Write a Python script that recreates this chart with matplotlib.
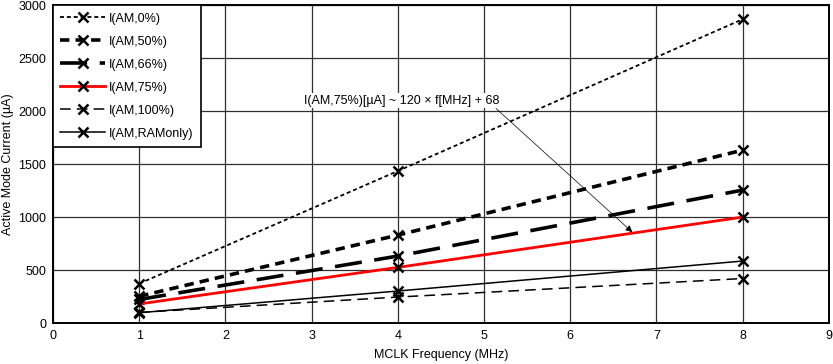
import matplotlib.pyplot as plt

plt.rcParams['font.family'] = ['Liberation Sans', 'DejaVu Sans']

# values
freq_mhz = [1, 4, 8]
i_am_0 = [372, 1435, 2868]
i_am_50 = [252, 830, 1632]
i_am_66 = [222, 632, 1255]
i_am_75 = [180, 525, 1000]
i_am_100 = [100, 245, 420]
i_am_ramonly = [97, 302, 585]

series = [
    ('I(AM,0%)', i_am_0, dict(color='black', lw=1.3, dashes=(2.2, 1.6))),
    ('I(AM,50%)', i_am_50, dict(color='black', lw=2.6, dashes=(2.6, 1.7))),
    ('I(AM,66%)', i_am_66, dict(color='black', lw=2.6, dashes=(7.5, 3.5))),
    ('I(AM,75%)', i_am_75, dict(color='#ff0000', lw=2.0, ls='-')),
    ('I(AM,100%)', i_am_100, dict(color='black', lw=1.1, dashes=(7, 4))),
    ('I(AM,RAMonly)', i_am_ramonly, dict(color='black', lw=1.1, ls='-')),
]

fs = 9

fig = plt.figure(figsize=(8.33, 3.64), dpi=100)
ax = fig.add_axes([0.0636, 0.1126, 0.9314, 0.873])

for label, vals, style in series:
    ax.plot(freq_mhz, vals, marker='x', ms=6.5, mew=1.8, mec='black',
            label=label, **style)

ax.set_xlim(0, 9)
ax.set_ylim(0, 3000)
ax.set_xticks(range(0, 10))
ax.set_yticks(range(0, 3001, 500))
ax.grid(True, color='#303030', lw=0.9)
ax.set_axisbelow(True)
ax.tick_params(length=0, labelsize=fs, pad=5)
for sp in ax.spines.values():
    sp.set_linewidth(1.4)
    sp.set_color('black')

ax.set_xlabel('MCLK Frequency (MHz)', fontsize=fs, labelpad=5)
ax.set_ylabel('Active Mode Current (µA)', fontsize=fs, labelpad=3)

ax.annotate('I(AM,75%)[µA] ~ 120 × f[MHz] + 68', xy=(6.72, 858), xytext=(4.05, 2100),
            ha='center', va='center', fontsize=fs,
            bbox=dict(boxstyle='square,pad=0.15', fc='white', ec='none'),
            arrowprops=dict(arrowstyle='-|>', color='black', lw=0.5,
                            shrinkA=0, shrinkB=0, mutation_scale=10,
                            relpos=(0.97, 0.0)))

leg = ax.legend(loc='upper left', fontsize=fs, frameon=True, fancybox=False,
                handlelength=3.6, borderaxespad=0, labelspacing=0.88,
                borderpad=0.6, handletextpad=0.3)
leg.get_frame().set_edgecolor('black')
leg.get_frame().set_linewidth(1.2)
leg.get_frame().set_alpha(1)

fig.savefig('out.png', dpi=100)
